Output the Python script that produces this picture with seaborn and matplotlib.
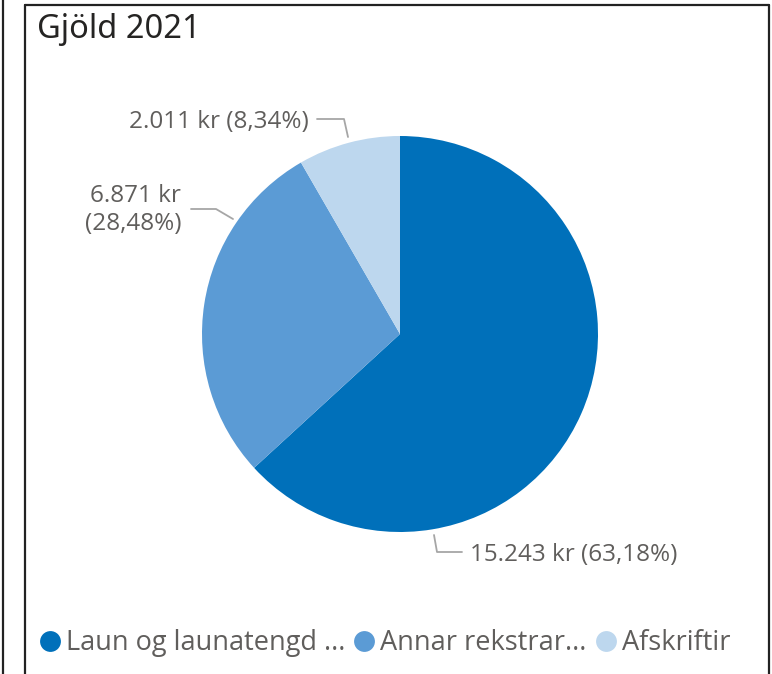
import matplotlib
matplotlib.use('Agg')
from matplotlib import pyplot as plt
from matplotlib.lines import Line2D
import seaborn as sns

# data
categories = ["Laun og launatengd ...", "Annar rekstrar...", "Afskriftir"]
values = [15243, 6871, 2011]
value_labels = ["15.243 kr (63,18%)", "6.871 kr\n(28,48%)", "2.011 kr (8,34%)"]
colors = ["#0070BA", "#5B9BD5", "#BDD7EE"]
title = "Gjöld 2021"

sns.set_style("white")
plt.rcParams['font.family'] = ['Open Sans', 'DejaVu Sans']

W, H = 772, 674
fig = plt.figure(figsize=(W / 100, H / 100), dpi=100)

# frame lines (pixel coords -> figure fraction)
def fx(px):
    return px / W

def fy(py):
    return 1 - py / H

frame_kw = dict(color="#222222", lw=1.6, transform=fig.transFigure)
fig.add_artist(Line2D([fx(3), fx(3)], [fy(0), fy(H)], **frame_kw))
fig.add_artist(Line2D([fx(25), fx(25)], [fy(5), fy(H)], **frame_kw))
fig.add_artist(Line2D([fx(25), fx(769)], [fy(5), fy(5)], **frame_kw))
fig.add_artist(Line2D([fx(769), fx(769)], [fy(5), fy(H)], **frame_kw))

fig.text(fx(37), fy(29), title, fontsize=23.5, color="#252423",
         va="center", ha="left", family=['Noto Sans', 'DejaVu Sans'])

# pie axes, centre (400, 334) radius 198 px
cx, cy, R = 400, 334, 198
ax = fig.add_axes([fx(cx - R), fy(cy + R), 2 * R / W, 2 * R / H])
ax.pie(values, colors=colors, startangle=90, counterclock=False,
       radius=1, wedgeprops=dict(linewidth=0))
ax.set_xlim(-1, 1)
ax.set_ylim(-1, 1)
ax.axis("off")

def d(px, py):
    return ((px - cx) / R, (cy - py) / R)

lead_col = "#A6A6A6"
text_col = "#605E5C"
# leader lines: (points in px), label anchor, alignment
leaders = [
    ([(434, 535), (437, 552), (462, 552)], (470, 555), "left"),
    ([(233, 219), (216, 209), (191, 209)], (181, 210), "right"),
    ([(348, 137), (344, 119), (317, 119)], (309, 122), "right"),
]
for (pts, (tx, ty), ha), lab in zip(leaders, value_labels):
    xs, ys = zip(*[d(*p) for p in pts])
    ax.plot(xs, ys, color=lead_col, lw=1.3, clip_on=False)
    ax.text(*d(tx, ty), lab, ha=ha, va="center", fontsize=17.5,
            color=text_col, clip_on=False, linespacing=1.25, multialignment="right")

# legend
handles = [Line2D([], [], marker="o", ls="", markersize=15, color=c,
                  markeredgewidth=0) for c in colors]
leg = fig.legend(handles, categories, loc="center left",
                 bbox_to_anchor=(fx(9), fy(643)), ncol=3, frameon=False,
                 fontsize=19.5, handletextpad=0.0, columnspacing=0.1,
                 handlelength=1.2, labelcolor="#605E5C")

fig.savefig("out.png", dpi=100)
